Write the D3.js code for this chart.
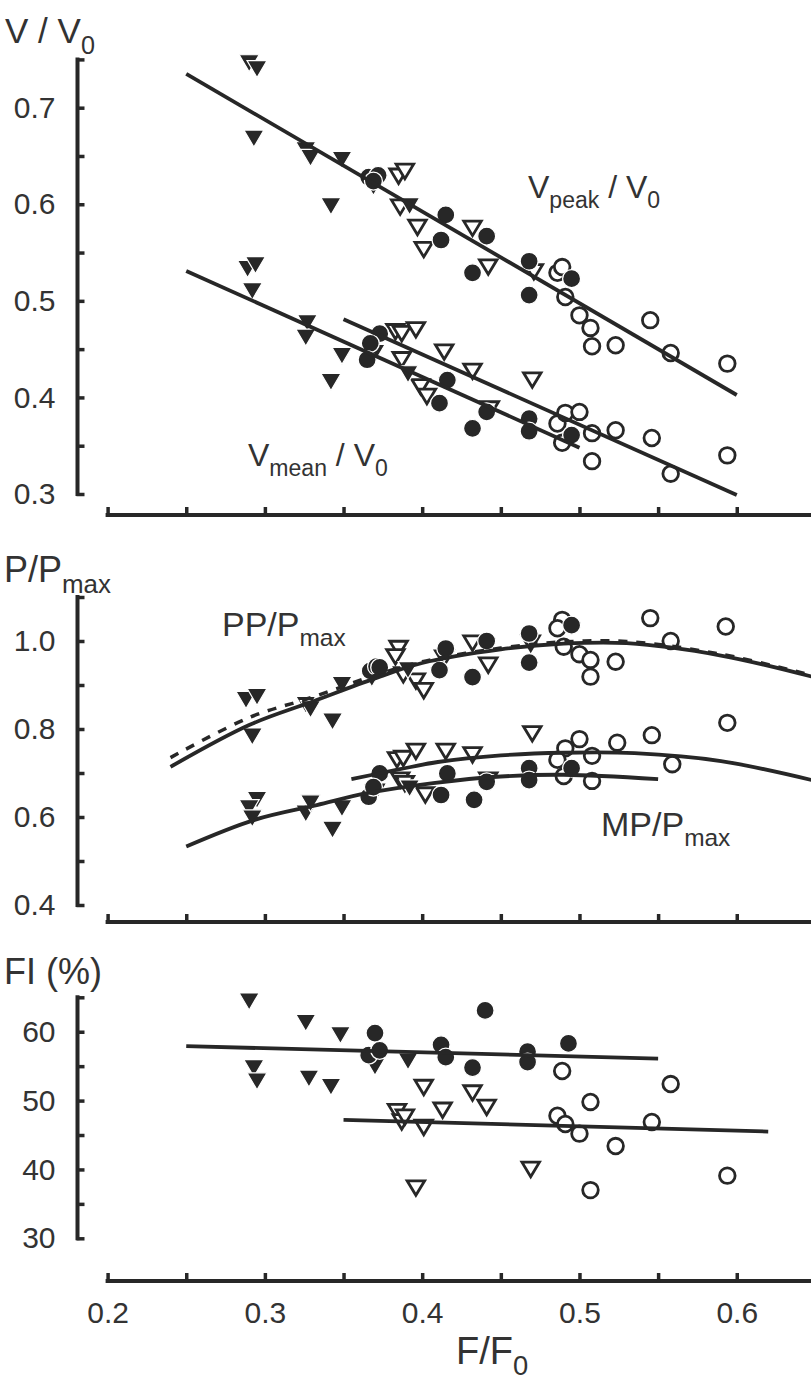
<!DOCTYPE html>
<html><head><meta charset="utf-8">
<script src="https://cdn.jsdelivr.net/npm/d3@7"></script>
<style>
html,body{margin:0;padding:0;background:#fff;}
text{font-family:"Liberation Sans",Arial,Helvetica,sans-serif;fill:#333;}
</style></head><body>
<script>
// ---------- X axis ----------
const xTicks = [0.2,0.25,0.3,0.35,0.4,0.45,0.5,0.55,0.6,0.65];
const xLabels = [0.2,0.3,0.4,0.5,0.6];

// ---------- Top panel: V/V0 ----------
const vTicks = [0.3,0.35,0.4,0.45,0.5,0.55,0.6,0.65,0.7,0.75];
const vLabels = [0.3,0.4,0.5,0.6,0.7];
const vpeakFilledTri = [[0.290,0.746],[0.295,0.740],[0.293,0.668],[0.326,0.656],[0.329,0.648],[0.349,0.646],[0.342,0.598],[0.369,0.618],[0.392,0.598]];
const vpeakOpenTri = [[0.385,0.629],[0.389,0.634],[0.386,0.597],[0.397,0.576],[0.401,0.553],[0.432,0.575],[0.442,0.535],[0.471,0.530]];
const vpeakFilledCirc = [[0.366,0.628],[0.372,0.630],[0.369,0.624],[0.415,0.589],[0.412,0.563],[0.432,0.529],[0.441,0.567],[0.468,0.541],[0.468,0.506],[0.495,0.523]];
const vpeakOpenCirc = [[0.486,0.529],[0.489,0.535],[0.491,0.504],[0.500,0.485],[0.507,0.472],[0.508,0.453],[0.523,0.454],[0.545,0.480],[0.558,0.446],[0.594,0.435]];
const vmeanFilledTri = [[0.289,0.533],[0.294,0.537],[0.292,0.510],[0.327,0.477],[0.326,0.462],[0.349,0.443],[0.342,0.416],[0.370,0.446],[0.391,0.424]];
const vmeanOpenTri = [[0.383,0.468],[0.387,0.466],[0.396,0.470],[0.414,0.447],[0.387,0.439],[0.399,0.411],[0.403,0.401],[0.432,0.427],[0.470,0.418],[0.443,0.388]];
const vmeanFilledCirc = [[0.373,0.466],[0.367,0.456],[0.365,0.439],[0.416,0.418],[0.411,0.394],[0.432,0.368],[0.441,0.385],[0.468,0.378],[0.468,0.365],[0.495,0.361]];
const vmeanOpenCirc = [[0.486,0.373],[0.491,0.384],[0.500,0.385],[0.489,0.353],[0.508,0.363],[0.508,0.334],[0.523,0.366],[0.546,0.358],[0.558,0.321],[0.594,0.340]];
const vpeakFit = [[0.25,0.735],[0.60,0.4025]];
const vmeanFilledFit = [[0.25,0.531],[0.50,0.348]];
const vmeanOpenFit = [[0.35,0.481],[0.60,0.299]];

// ---------- Middle panel: P/Pmax ----------
const pTicks = [0.4,0.5,0.6,0.7,0.8,0.9,1.0,1.1];
const pLabels = [0.4,0.6,0.8,1.0];
const ppFilledTri = [[0.288,0.866],[0.295,0.873],[0.292,0.783],[0.326,0.855],[0.329,0.845],[0.343,0.817],[0.349,0.900],[0.368,0.915],[0.391,0.934]];
const ppOpenTri = [[0.385,0.983],[0.383,0.964],[0.388,0.923],[0.396,0.909],[0.401,0.887],[0.414,0.961],[0.432,0.995],[0.442,0.945],[0.469,0.995]];
const ppFilledCirc = [[0.367,0.932],[0.371,0.942],[0.373,0.940],[0.415,0.983],[0.411,0.934],[0.432,0.918],[0.441,1.000],[0.468,1.017],[0.468,0.951],[0.495,1.036]];
const ppOpenCirc = [[0.489,1.048],[0.486,1.029],[0.490,0.987],[0.500,0.970],[0.507,0.957],[0.507,0.919],[0.523,0.953],[0.545,1.052],[0.558,1.000],[0.593,1.033]];
const mpFilledTri = [[0.295,0.639],[0.290,0.620],[0.292,0.597],[0.326,0.608],[0.329,0.631],[0.349,0.620],[0.343,0.571],[0.371,0.658],[0.392,0.665]];
const mpOpenTri = [[0.384,0.730],[0.388,0.733],[0.396,0.749],[0.415,0.749],[0.432,0.741],[0.386,0.684],[0.389,0.676],[0.402,0.650],[0.442,0.684],[0.470,0.789]];
const mpFilledCirc = [[0.373,0.699],[0.366,0.646],[0.369,0.668],[0.416,0.699],[0.412,0.650],[0.433,0.639],[0.441,0.680],[0.468,0.711],[0.468,0.684],[0.495,0.711]];
const mpOpenCirc = [[0.500,0.777],[0.491,0.756],[0.486,0.730],[0.508,0.739],[0.524,0.769],[0.546,0.786],[0.594,0.814],[0.559,0.720],[0.490,0.693],[0.508,0.682]];
const ppFit = [[0.24,0.714],[0.29,0.809],[0.33,0.862],[0.37,0.915],[0.40,0.950],[0.45,0.981],[0.49,0.994],[0.53,0.995],[0.59,0.967],[0.65,0.917]];
const ppDashFit = [[0.24,0.735],[0.29,0.826],[0.33,0.872],[0.37,0.922],[0.40,0.953],[0.45,0.984],[0.49,0.998],[0.53,0.999],[0.59,0.970],[0.65,0.920]];
const mpOpenFit = [[0.355,0.686],[0.385,0.708],[0.41,0.725],[0.45,0.740],[0.49,0.746],[0.535,0.745],[0.59,0.727],[0.65,0.682]];
const mpFilledFit = [[0.25,0.533],[0.293,0.593],[0.333,0.627],[0.365,0.654],[0.407,0.677],[0.45,0.692],[0.49,0.696],[0.55,0.686]];

// ---------- Bottom panel: FI (%) ----------
const fiTicks = [30,35,40,45,50,55,60,65];
const fiLabels = [30,40,50,60];
const fiFilledTri = [[0.290,64.4],[0.326,61.3],[0.348,59.5],[0.293,54.7],[0.295,52.8],[0.328,53.2],[0.342,52.0],[0.370,54.9],[0.391,55.7]];
const fiFilledCirc = [[0.370,59.8],[0.366,56.6],[0.373,57.3],[0.412,58.1],[0.415,56.3],[0.440,63.1],[0.432,54.8],[0.467,57.1],[0.467,55.6],[0.493,58.3]];
const fiOpenTri = [[0.384,48.4],[0.387,46.9],[0.389,47.6],[0.401,46.1],[0.401,51.9],[0.413,48.6],[0.432,51.1],[0.441,49.0],[0.396,37.3],[0.469,40.0]];
const fiOpenCirc = [[0.489,54.3],[0.507,49.8],[0.558,52.4],[0.486,47.8],[0.491,46.6],[0.500,45.2],[0.523,43.4],[0.546,46.9],[0.507,37.0],[0.594,39.1]];
const fiFilledFit = [[0.25,57.9],[0.55,56.1]];
const fiOpenFit = [[0.35,47.2],[0.62,45.5]];

// ---------- drawing ----------
const INK = "#272727";
const W = 811, H = 1385;
const svg = d3.select("body").append("svg").attr("width", W).attr("height", H);

const x = d3.scaleLinear().domain([0.2, 0.65]).range([107.6, 815.4]);
const yAxisX = 77.5;
const TICK_FONT = 30;

const panels = [
  {y: d3.scaleLinear().domain([0.3, 0.75]).range([494, 59.4]), axisY: 515, ticks: vTicks, labels: vLabels, fmt: d3.format(".1f"),
   series: [
     [vpeakOpenCirc,"oc"],[vmeanOpenCirc,"oc"],[vpeakOpenTri,"ot"],[vmeanOpenTri,"ot"],
     [vpeakFilledTri,"ft"],[vmeanFilledTri,"ft"],[vpeakFilledCirc,"fc"],[vmeanFilledCirc,"fc"]],
   fits: [[vpeakFit,false],[vmeanFilledFit,false],[vmeanOpenFit,false]]},
  {y: d3.scaleLinear().domain([0.4, 1.1]).range([905, 597]), axisY: 922, ticks: pTicks, labels: pLabels, fmt: d3.format(".1f"),
   series: [
     [ppOpenCirc,"oc"],[mpOpenCirc,"oc"],[ppOpenTri,"ot"],[mpOpenTri,"ot"],
     [ppFilledTri,"ft"],[mpFilledTri,"ft"],[ppFilledCirc,"fc"],[mpFilledCirc,"fc"]],
   fits: [[ppFit,false],[ppDashFit,true],[mpOpenFit,false],[mpFilledFit,false]]},
  {y: d3.scaleLinear().domain([30, 65]).range([1238.3, 997.3]), axisY: 1281, ticks: fiTicks, labels: fiLabels, fmt: d3.format("d"),
   series: [
     [fiOpenCirc,"oc"],[fiOpenTri,"ot"],[fiFilledTri,"ft"],[fiFilledCirc,"fc"]],
   fits: [[fiFilledFit,false],[fiOpenFit,false]], xLabels: true}
];

const triDown = (w, h) => `M${-w/2},${-h/2}L${w/2},${-h/2}L0,${h/2}Z`;

panels.forEach((p, pi) => {
  const g = svg.append("g");
  // y axis
  const ya = d3.axisLeft(p.y).tickValues(p.ticks).tickSizeInner(-7).tickSizeOuter(0).tickPadding(22)
     .tickFormat(d => p.labels.some(l => Math.abs(l - d) < 1e-9) ? p.fmt(d) : "");
  const yg = g.append("g").attr("transform", `translate(${yAxisX},0)`).call(ya);
  yg.select(".domain").attr("stroke", INK).attr("stroke-width", 4).attr("d", `M0,${p.y.range()[0]+2}V${p.y.range()[1]-2}`);
  yg.selectAll(".tick line").attr("stroke", INK).attr("stroke-width", 3.5).attr("x1", -1);
  yg.selectAll(".tick text").attr("font-size", TICK_FONT).attr("fill", "#333").attr("font-family", "Liberation Sans, Arial, sans-serif");
  // x axis
  const xa = d3.axisBottom(x).tickValues(xTicks).tickSizeInner(-8).tickSizeOuter(0).tickPadding(21)
     .tickFormat(d => (p.xLabels && xLabels.some(l => Math.abs(l - d) < 1e-9)) ? d3.format(".1f")(d) : "");
  const xg = g.append("g").attr("transform", `translate(0,${p.axisY})`).call(xa);
  xg.select(".domain").attr("stroke", INK).attr("stroke-width", 4).attr("d", `M${x.range()[0]-2},0H${x.range()[1]}`);
  xg.selectAll(".tick line").attr("stroke", INK).attr("stroke-width", 3.5).attr("y1", 1);
  xg.selectAll(".tick text").attr("font-size", TICK_FONT).attr("fill", "#333").attr("font-family", "Liberation Sans, Arial, sans-serif");

  // markers
  const mg = g.append("g");
  p.series.forEach(([data, type]) => {
    const sel = mg.append("g").selectAll("path").data(data).join("path")
      .attr("transform", d => `translate(${x(d[0])},${p.y(d[1])})`);
    if (type === "oc") sel.attr("d", d3.arc()({innerRadius:0, outerRadius:7.8, startAngle:0, endAngle:2*Math.PI}))
        .attr("fill", "#fff").attr("stroke", INK).attr("stroke-width", 2.8);
    if (type === "fc") sel.attr("d", d3.arc()({innerRadius:0, outerRadius:9, startAngle:0, endAngle:2*Math.PI}))
        .attr("fill", INK).attr("stroke", "#fff").attr("stroke-width", 1.3);
    if (type === "ot") sel.attr("d", triDown(17.5, 14.5))
        .attr("fill", "#fff").attr("stroke", INK).attr("stroke-width", 2.8).attr("stroke-linejoin", "miter");
    if (type === "ft") sel.attr("d", triDown(20, 17))
        .attr("fill", INK).attr("stroke", "#fff").attr("stroke-width", 1.2);
  });

  // fitted lines (drawn on top)
  const line = d3.line().x(d => x(d[0])).y(d => p.y(d[1])).curve(d3.curveCatmullRom.alpha(0.5));
  p.fits.forEach(([data, dashed]) => {
    g.append("path").attr("d", line(data)).attr("fill", "none").attr("stroke", INK)
      .attr("stroke-width", dashed ? 3.5 : 3.8)
      .attr("stroke-dasharray", dashed ? "9,9" : null);
  });
});

// ---------- texts ----------
function label(xp, yp, parts, size) {
  const t = svg.append("text").attr("x", xp).attr("y", yp).attr("font-size", size);
  parts.forEach(([s, sub]) => {
    t.append("tspan").text(s).attr("font-size", sub === 1 ? size * 0.72 : size)
      .attr("dy", sub === 1 ? size * 0.3 : (sub === -1 ? -size * 0.3 : 0));
  });
  return t;
}
// axis titles
label(5, 43, [["V / V",0],["0",1]], 35);
label(4, 582, [["P/P",0],["max",1]], 36);
label(4, 984, [["FI (%)",0]], 36);
label(456, 1364, [["F/F",0],["0",1]], 38);
// annotations
label(528, 198, [["V",0],["peak",1],[" / V",-1],["0",1]], 32);
label(248, 466, [["V",0],["mean",1],[" / V",-1],["0",1]], 32);
label(222, 636, [["PP/P",0],["max",1]], 34);
label(601, 836, [["MP/P",0],["max",1]], 34);
</script>
</body></html>
